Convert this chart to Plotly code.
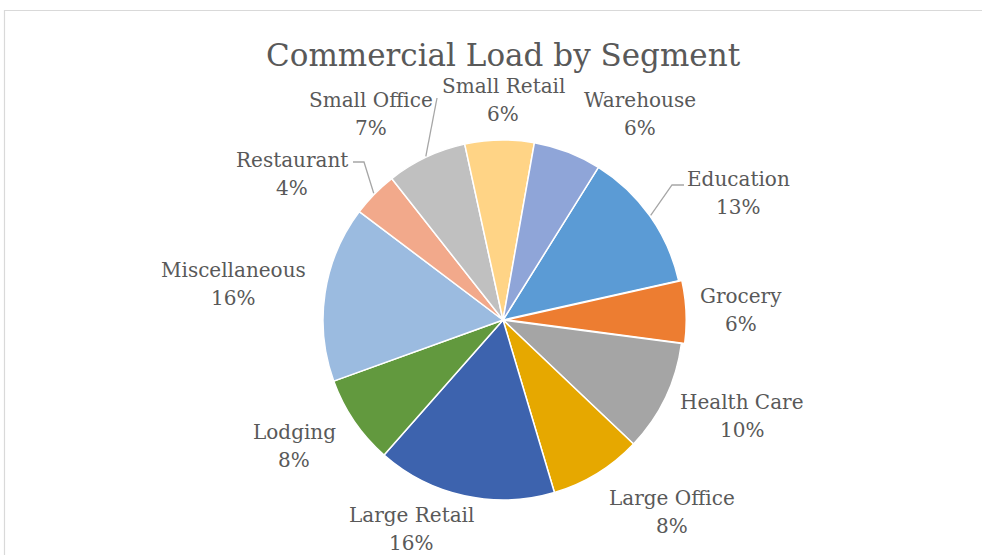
import math
import plotly.graph_objects as go

# ---- data ----
segments = ["Education", "Grocery", "Health Care", "Large Office", "Large Retail",
            "Lodging", "Miscellaneous", "Restaurant", "Small Office", "Small Retail", "Warehouse"]
shares = [12.6, 5.6, 10.0, 8.3, 16.1, 8.0, 15.8, 4.1, 7.2, 6.2, 6.1]
colors = ["#5B9BD5", "#ED7D31", "#A5A5A5", "#E6A800", "#3D63AE",
          "#62993E", "#9BBBE0", "#F2A98B", "#C0C0C0", "#FFD486", "#8FA5D8"]
pulls = [0, 0.018, 0, 0, 0, 0, 0, 0, 0, 0, 0]
title_text = "Commercial Load by Segment"

# ---- layout constants (pixels) ----
W, H = 982, 555
CX, CY, R = 503, 320, 180
ROT = 32
FONT = "DejaVu Serif"
TXT = "#595959"

# label centre positions in pixels (layout only)
label_pos = {
    "Education": (738, 193), "Grocery": (741, 310), "Health Care": (742, 416),
    "Large Office": (672, 512), "Large Retail": (411, 529), "Lodging": (294, 446),
    "Miscellaneous": (233, 284), "Restaurant": (292, 174), "Small Office": (371, 114),
    "Small Retail": (503, 100), "Warehouse": (640, 114),
}
# leader line label-side anchors (pixels)
leader_anchor = {
    "Small Office": [(437, 98)],
    "Restaurant": [(353, 162), (364, 162)],
    "Education": [(684, 185), (672, 185)],
}


def px(x):
    return x / W


def py(y):
    return 1 - y / H


half = R * (1 + max(pulls))
fig = go.Figure(go.Pie(
    labels=segments, values=shares, sort=False, direction="clockwise",
    rotation=ROT, pull=pulls, textinfo="none", hoverinfo="label+percent",
    marker=dict(colors=colors, line=dict(color="white", width=1.5)),
    domain=dict(x=[px(CX - half), px(CX + half)], y=[(H - CY - half) / H, (H - CY + half) / H]),
    showlegend=False,
))

total = sum(shares)
annotations = []
shapes = []
cum = 0.0
for name, v in zip(segments, shares):
    mid = math.radians(ROT + (cum + v / 2) / total * 360)
    cum += v
    pct = round(v / total * 100)
    lx, ly = label_pos[name]
    for txt, dy in ((name, -14), (f"{pct}%", 14)):
        annotations.append(dict(
            x=px(lx), y=py(ly + dy), xref="paper", yref="paper", showarrow=False,
            text=txt, font=dict(family=FONT, size=20, color=TXT),
            align="center", xanchor="center", yanchor="middle",
        ))
    if name in leader_anchor:
        ex, ey = CX + (R + 1) * math.sin(mid), CY - (R + 1) * math.cos(mid)
        pts = leader_anchor[name] + [(ex, ey)]
        path = "M " + " L ".join(f"{px(a):.5f},{py(b):.5f}" for a, b in pts)
        shapes.append(dict(type="path", path=path, xref="paper", yref="paper",
                           line=dict(color="#A6A6A6", width=1.3)))

# chart frame
shapes.append(dict(type="rect", xref="paper", yref="paper",
                   x0=px(4.5), y0=py(10.5), x1=1.05, y1=-0.05,
                   line=dict(color="#D9D9D9", width=1.2), fillcolor="rgba(0,0,0,0)"))

annotations.append(dict(
    x=px(503), y=py(55), xref="paper", yref="paper", showarrow=False,
    text=title_text, font=dict(family=FONT, size=31, color=TXT),
    xanchor="center", yanchor="middle",
))

fig.update_layout(
    width=W, height=H, margin=dict(l=0, r=0, t=0, b=0),
    paper_bgcolor="white", plot_bgcolor="white",
    annotations=annotations, shapes=shapes,
)
fig.write_html("out.html", config={"displayModeBar": False},
               post_script="document.body.style.margin='0px';document.body.style.overflow='hidden';")
